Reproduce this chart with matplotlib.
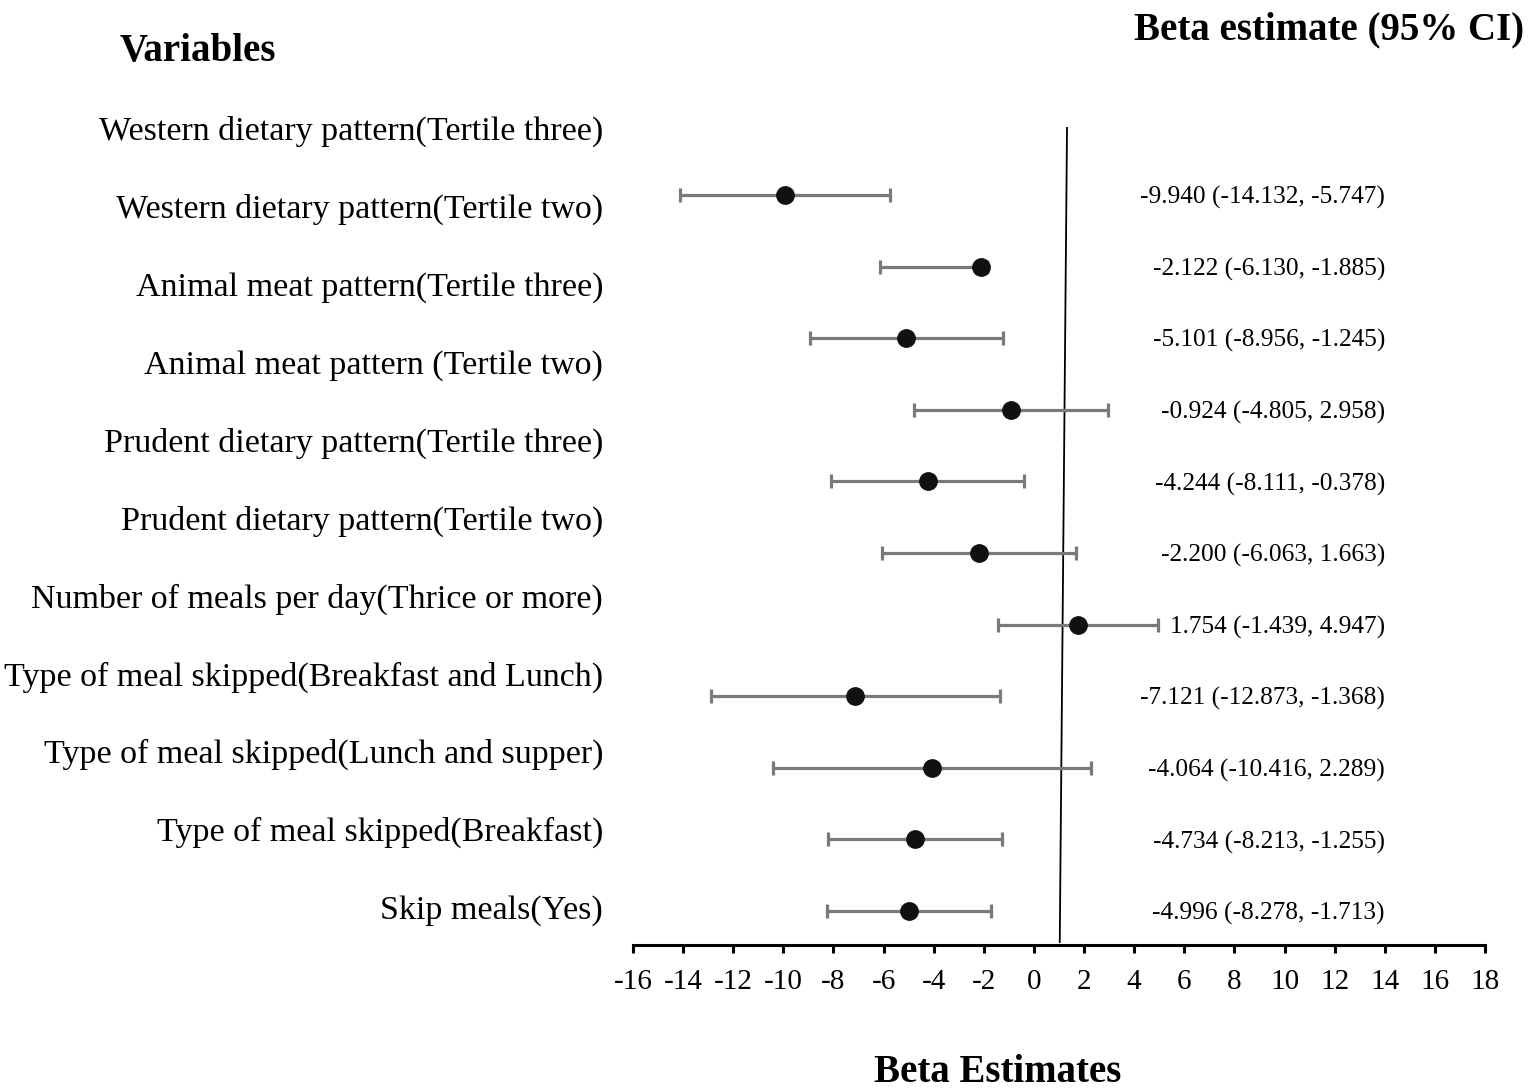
import numpy as np
import matplotlib
matplotlib.use('Agg')
import matplotlib.pyplot as plt

plt.rcParams['font.family'] = ['Liberation Serif', 'DejaVu Serif']

labels = ['Western dietary pattern(Tertile three)',
          'Western dietary pattern(Tertile two)',
          'Animal meat pattern(Tertile three)',
          'Animal meat pattern (Tertile two)',
          'Prudent dietary pattern(Tertile three)',
          'Prudent dietary pattern(Tertile two)',
          'Number of meals per day(Thrice or more)',
          'Type of meal skipped(Breakfast and Lunch)',
          'Type of meal skipped(Lunch and supper)',
          'Type of meal skipped(Breakfast)',
          'Skip meals(Yes)']
beta = [-9.940, -2.122, -5.101, -0.924, -4.244, -2.200, 1.754, -7.121, -4.064, -4.734, -4.996]
lower = [-14.132, -6.130, -8.956, -4.805, -8.111, -6.063, -1.439, -12.873, -10.416, -8.213, -8.278]
upper = [-5.747, -1.885, -1.245, 2.958, -0.378, 1.663, 4.947, -1.368, 2.289, -1.255, -1.713]
xticks = list(range(-16, 19, 2))
ref_line_x = [1.32, 1.03]   # reference line is slightly slanted in the original

W, H = 1535, 1092
fig = plt.figure(figsize=(W / 100, H / 100), dpi=100)
ax = fig.add_axes([633 / W, (H - 945) / H, 852 / W, 818 / H])

n = len(beta)
ypos = np.arange(n)[::-1]
b = np.array(beta); lo = np.array(lower); up = np.array(upper)
ax.errorbar(b, ypos, xerr=[b - lo, up - b], fmt='none', ecolor='#7a7a7a',
            elinewidth=2.3, capsize=5, capthick=2.3, zorder=2)
ax.plot(b, ypos, 'o', color='#111111', markersize=12.5, zorder=3)

ylim = (-0.475, 10.95)
ax.set_ylim(*ylim)
ax.set_xlim(-16, 18)
ax.plot(ref_line_x, [ylim[1], ylim[0] + 0.04], color='black', lw=1.3, zorder=1)

# right-hand column of estimates, right edge at 1385 px
txt_x = (1385 - 633) / 852
for y, bb, l, u in zip(ypos, beta, lower, upper):
    ax.text(txt_x, y, f'{bb:.3f} ({l:.3f}, {u:.3f})', transform=ax.get_yaxis_transform(),
            ha='right', va='center_baseline', fontsize=18.3)

for sp in ['top', 'right', 'left']:
    ax.spines[sp].set_visible(False)
ax.spines['bottom'].set_linewidth(2.2)
ax.set_yticks([])
ax.set_xticks(xticks)
ax.set_xticklabels([str(t) for t in xticks])
ax.tick_params(axis='x', direction='out', length=6, width=2.2, pad=11, labelsize=21)

label_px = np.linspace(128, 907, n)
for lab, yp in zip(labels, label_px):
    fig.text(603 / W, 1 - yp / H, lab, ha='right', va='center_baseline', fontsize=24.5)

fig.text(198 / W, 1 - 51 / H, 'Variables', ha='center', va='center', fontsize=28, fontweight='bold')
fig.text(1329 / W, 1 - 30 / H, 'Beta estimate (95% CI)', ha='center', va='center', fontsize=28, fontweight='bold')
fig.text(998 / W, 1 - 1072 / H, 'Beta Estimates', ha='center', va='center', fontsize=28, fontweight='bold')

fig.savefig('out.png', dpi=100)
